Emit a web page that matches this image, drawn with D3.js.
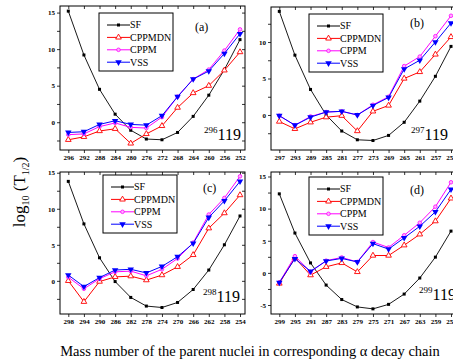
<!DOCTYPE html>
<html>
<head>
<meta charset="utf-8">
<script src="https://cdn.jsdelivr.net/npm/d3@7"></script>
<style>
  body { margin: 0; background: #fff; }
  text { font-family: "Liberation Serif", "DejaVu Serif", serif; }
  .tick text { font-weight: bold; font-size: 7px; }
</style>
</head>
<body>
<svg id="chart" width="453" height="363"></svg>
<script>
// x categories (mass numbers) for each chain
const massA = [296, 292, 288, 284, 280, 276, 272, 268, 264, 260, 256, 252];
const massB = [297, 293, 289, 285, 281, 277, 273, 269, 265, 261, 257, 253];
const massC = [298, 294, 290, 286, 282, 278, 274, 270, 266, 262, 258, 254];
const massD = [299, 295, 291, 287, 283, 279, 275, 271, 267, 263, 259, 255];

// log10(T1/2) values
const sfA      = [15.2, 9.2, 4.5, 1.1, -1.1, -2.3, -2.4, -1.4, 0.8, 3.7, 7.2, 11.3];
const cppmdnA  = [-2.4, -2.0, -1.2, -0.9, -2.9, -1.6, -0.5, 2.0, 4.0, 5.0, 7.1, 9.6];
const cppmA    = [-1.7, -1.6, -0.6, -0.1, -0.7, -0.8, 0.7, 3.5, 5.9, 7.2, 9.8, 12.7];
const vssA     = [-1.4, -1.3, -0.3, 0.2, -0.3, -0.4, 0.9, 3.5, 5.9, 7.0, 9.4, 12.1];

const sfB      = [14.2, 8.2, 3.5, 0.0, -2.2, -3.4, -3.5, -2.8, -1.0, 1.9, 5.3, 9.4];
const cppmdnB  = [-0.9, -1.9, -1.0, -0.3, -0.1, -2.2, 0.5, 1.3, 5.0, 5.9, 8.3, 10.7];
const cppmB    = [-0.1, -1.4, -0.2, 0.4, 0.5, 0.0, 1.4, 2.5, 6.7, 8.0, 10.8, 13.6];
const vssB     = [-0.1, -1.4, -0.3, 0.4, 0.5, 0.0, 1.3, 2.4, 6.3, 7.5, 10.0, 12.6];

const sfC      = [13.8, 7.9, 3.2, -0.1, -2.3, -3.5, -3.7, -3.0, -1.2, 1.5, 5.0, 9.0];
const cppmdnC  = [0.0, -2.9, -0.1, 0.55, 0.65, 0.1, 0.8, 1.95, 3.6, 7.3, 9.4, 11.9];
const cppmC    = [0.5, -1.1, 0.3, 1.25, 1.35, 0.7, 1.6, 3.1, 5.3, 9.2, 11.5, 14.5];
const vssC     = [0.8, -0.8, 0.45, 1.5, 1.6, 1.1, 2.0, 3.35, 5.2, 8.8, 11.1, 13.8];

const sfD      = [12.3, 6.2, 1.55, -1.9, -4.15, -5.3, -5.6, -4.9, -3.3, -0.8, 2.45, 6.5];
const cppmdnD  = [-1.65, 2.35, -0.35, 0.95, 1.55, 0.15, 2.7, 2.7, 4.3, 6.0, 8.05, 11.6];
const cppmD    = [-1.5, 2.6, 0.15, 1.9, 2.4, 1.7, 4.8, 3.95, 5.85, 7.8, 10.3, 14.1];
const vssD     = [-1.5, 2.2, 0.25, 1.85, 2.25, 1.7, 4.55, 3.7, 5.45, 7.25, 9.5, 13.0];

const seriesNames = ["SF", "CPPMDN", "CPPM", "VSS"];
const panelLabels = ["(a)", "(b)", "(c)", "(d)"];
const parentMass = ["296", "297", "298", "299"];
const yTicksLabels = [-5, 0, 5, 10, 15];

const styles = {
  SF:     { color: "#000000", marker: "square" },
  CPPMDN: { color: "#ff0000", marker: "triUp" },
  CPPM:   { color: "#ff00ff", marker: "circle" },
  VSS:    { color: "#0000ff", marker: "triDown" }
};

// panel frames and layout (pixels)
const panels = [
  { mass: massA, data: [sfA, cppmdnA, cppmA, vssA], x0: 60,  x1: 245, y0: 6,   y1: 150, dom: [-3.8, 15.9],
    leg: [99, 13],  lab: [195, 31],  nuc: [204, 140] },
  { mass: massB, data: [sfB, cppmdnB, cppmB, vssB], x0: 271, x1: 456, y0: 7,   y1: 150, dom: [-4.8, 14.8],
    leg: [309, 14], lab: [410, 27],  nuc: [411, 140] },
  { mass: massC, data: [sfC, cppmdnC, cppmC, vssC], x0: 60,  x1: 245, y0: 172, y1: 314, dom: [-4.6, 15.1],
    leg: [103, 175], lab: [203, 192], nuc: [203, 302] },
  { mass: massD, data: [sfD, cppmdnD, cppmD, vssD], x0: 271, x1: 456, y0: 172, y1: 314, dom: [-6.4, 15.7],
    leg: [309, 177], lab: [410, 194], nuc: [419, 300] }
];

const svg = d3.select("#chart");

function drawMarker(g, type, color, x, y) {
  if (type === "square") {
    g.append("rect").attr("x", x - 1.5).attr("y", y - 1.5).attr("width", 3).attr("height", 3).attr("fill", color);
  } else if (type === "circle") {
    g.append("circle").attr("cx", x).attr("cy", y).attr("r", 1.8)
      .attr("fill", "#ffb0ff").attr("stroke", color).attr("stroke-width", 0.8);
  } else if (type === "triUp") {
    g.append("path").attr("d", d3.symbol(d3.symbolTriangle, 14)()).attr("transform", `translate(${x},${y})`)
      .attr("fill", "#fff").attr("stroke", color).attr("stroke-width", 0.9);
  } else {
    g.append("path").attr("d", d3.symbol(d3.symbolTriangle, 18)()).attr("transform", `translate(${x},${y}) rotate(180)`)
      .attr("fill", color);
  }
}

panels.forEach((p, i) => {
  const x = d3.scalePoint().domain(p.mass).range([p.x0 + 8.3, p.x1 - 5]);
  const y = d3.scaleLinear().domain(p.dom).range([p.y1, p.y0]);
  const g = svg.append("g");

  // frame
  g.append("rect").attr("x", p.x0).attr("y", p.y0).attr("width", p.x1 - p.x0).attr("height", p.y1 - p.y0)
    .attr("fill", "none").attr("stroke", "#000").attr("stroke-width", 1);

  // axes
  const yTicks = yTicksLabels.filter(v => v >= p.dom[0] && v <= p.dom[1]);
  const yMinor = d3.range(-7.5, 17.5, 2.5).filter(v => v >= p.dom[0] && v <= p.dom[1]);
  g.append("g").attr("transform", `translate(${p.x0},0)`)
    .call(d3.axisLeft(y).tickValues(yMinor).tickSize(3).tickPadding(2).tickFormat(v => yTicks.includes(v) ? v : ""))
    .call(a => a.select(".domain").remove());
  g.append("g").attr("transform", `translate(${p.x1},0)`)
    .call(d3.axisLeft(y).tickValues(yMinor).tickSize(3).tickFormat(""))
    .call(a => a.select(".domain").remove());
  g.append("g").attr("transform", `translate(0,${p.y1})`)
    .call(d3.axisBottom(x).tickSize(3).tickPadding(2))
    .call(a => a.select(".domain").remove());
  g.append("g").attr("transform", `translate(0,${p.y0})`)
    .call(d3.axisBottom(x).tickSize(3).tickFormat(""))
    .call(a => a.select(".domain").remove());
  g.selectAll(".tick line").attr("stroke-width", 0.8);

  // series
  const line = d3.line().x((d, j) => x(p.mass[j])).y(d => y(d));
  seriesNames.forEach((name, k) => {
    const st = styles[name];
    const vals = p.data[k];
    g.append("path").datum(vals).attr("d", line).attr("fill", "none")
      .attr("stroke", st.color).attr("stroke-width", name === "SF" ? 0.9 : 1);
    vals.forEach((v, j) => drawMarker(g, st.marker, st.color, x(p.mass[j]), y(v)));
  });

  // legend
  const lg = g.append("g").attr("transform", `translate(${p.leg[0]},${p.leg[1]})`);
  lg.append("rect").attr("width", 74).attr("height", 58).attr("fill", "#fff").attr("stroke", "#000").attr("stroke-width", 1);
  seriesNames.forEach((name, k) => {
    const st = styles[name];
    const ly = 12 + k * 12.4;
    lg.append("line").attr("x1", 8).attr("x2", 31).attr("y1", ly).attr("y2", ly).attr("stroke", st.color).attr("stroke-width", 1);
    drawMarker(lg, st.marker, st.color, 19.5, ly);
    lg.append("text").attr("x", 31).attr("y", ly + 3.4).attr("font-size", 10).text(name);
  });

  // panel label and nucleus
  g.append("text").attr("x", p.lab[0]).attr("y", p.lab[1]).attr("font-size", 12).text(panelLabels[i]);
  const nt = g.append("text").attr("x", p.nuc[0]).attr("y", p.nuc[1]);
  nt.append("tspan").attr("font-size", 9).attr("dy", -7).text(parentMass[i]);
  nt.append("tspan").attr("font-size", 16).attr("dy", 7).text("119");
});

// axis titles
const yt = svg.append("text").attr("transform", "translate(25,192) rotate(-90)").attr("text-anchor", "middle").attr("font-size", 17);
yt.append("tspan").text("log");
yt.append("tspan").attr("font-size", 10).attr("dy", 4).text("10");
yt.append("tspan").attr("dy", -4).text(" (T");
yt.append("tspan").attr("font-size", 10).attr("dy", 4).text("1/2");
yt.append("tspan").attr("dy", -4).text(")");

svg.append("text").attr("x", 250).attr("y", 356).attr("text-anchor", "middle").attr("font-size", 14.5)
  .text("Mass number of the parent nuclei in corresponding α decay chain");
</script>
</body>
</html>
